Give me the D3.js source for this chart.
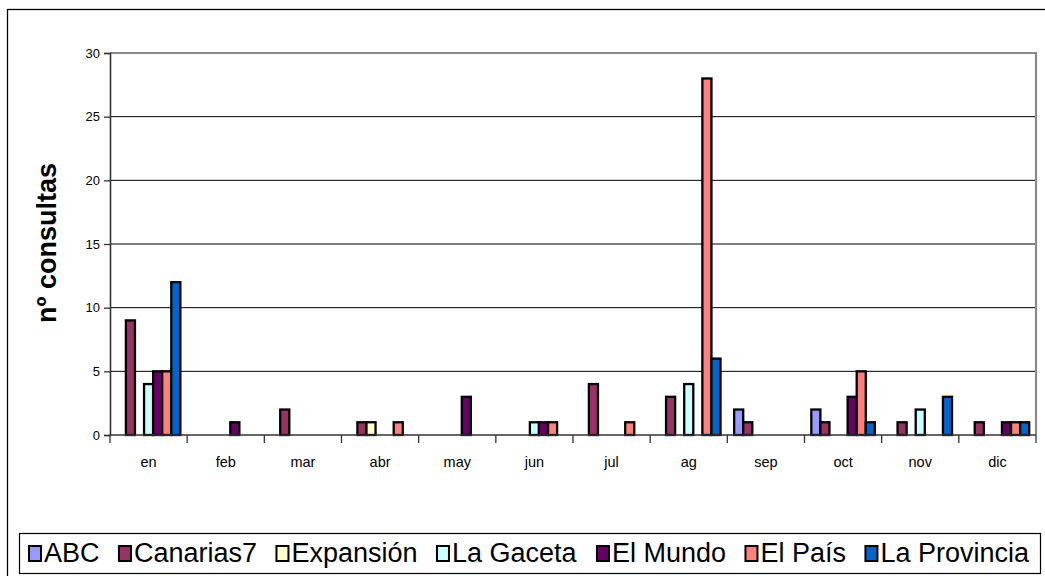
<!DOCTYPE html>
<html>
<head>
<meta charset="utf-8">
<script src="https://cdn.jsdelivr.net/npm/d3@7"></script>
<style>
  html, body { margin: 0; padding: 0; background: #fff; }
  svg { display: block; font-family: "Liberation Sans", Arial, sans-serif; }
</style>
</head>
<body>
<svg id="chart" width="1045" height="576"></svg>
<script>
// ---- data ----
const months = ["en", "feb", "mar", "abr", "may", "jun", "jul", "ag", "sep", "oct", "nov", "dic"];
const seriesNames = ["ABC", "Canarias7", "Expansión", "La Gaceta", "El Mundo", "El País", "La Provincia"];
const seriesColors = ["#9999FF", "#993366", "#FFFFCC", "#CCFFFF", "#660066", "#FF8080", "#0066CC"];
const abc         = [0, 0, 0, 0, 0, 0, 0, 0, 2, 2, 0, 0];
const canarias7   = [9, 0, 2, 1, 0, 0, 4, 3, 1, 1, 1, 1];
const expansion   = [0, 0, 0, 1, 0, 0, 0, 0, 0, 0, 0, 0];
const laGaceta    = [4, 0, 0, 0, 0, 1, 0, 4, 0, 0, 2, 0];
const elMundo     = [5, 1, 0, 0, 3, 1, 0, 0, 0, 3, 0, 1];
const elPais      = [5, 0, 0, 1, 0, 1, 1, 28, 0, 5, 0, 1];
const laProvincia = [12, 0, 0, 0, 0, 0, 0, 6, 0, 1, 3, 1];
const yTicks = [0, 5, 10, 15, 20, 25, 30];
const yTitle = "nº consultas";

const seriesValues = [abc, canarias7, expansion, laGaceta, elMundo, elPais, laProvincia];

// ---- layout ----
const svg = d3.select("#chart");
const plot = { left: 110, right: 1036, top: 53, bottom: 435 };

// outer chart border (extends past the picture on right/bottom)
svg.append("rect")
  .attr("x", 7.5).attr("y", 9.5).attr("width", 1200).attr("height", 800)
  .attr("fill", "none").attr("stroke", "#000").attr("stroke-width", 1.3);

const x0 = d3.scaleBand().domain(months).range([plot.left, plot.right]).paddingInner(0).paddingOuter(0);
const x1 = d3.scaleBand().domain(seriesNames).range([0, x0.bandwidth()]).paddingInner(0).paddingOuter(0.75);
const y = d3.scaleLinear().domain([0, 30]).range([plot.bottom, plot.top]);

// gridlines
svg.append("g").selectAll("line").data(yTicks.filter(t => t > 0 && t < 30)).join("line")
  .attr("x1", plot.left).attr("x2", plot.right)
  .attr("y1", d => y(d)).attr("y2", d => y(d))
  .attr("stroke", "#000").attr("stroke-width", 1);

// plot area border (top, right) in gray
svg.append("path")
  .attr("d", `M${plot.left},${y(30)}H${plot.right}V${plot.bottom}`)
  .attr("fill", "none").attr("stroke", "#8a8a8a").attr("stroke-width", 2.2);

// bars
const flat = [];
months.forEach((m, i) => {
  seriesNames.forEach((s, j) => {
    const v = seriesValues[j][i];
    if (v > 0) flat.push({ m, s, v, c: seriesColors[j] });
  });
});
svg.append("g").selectAll("rect").data(flat).join("rect")
  .attr("x", d => x0(d.m) + x1(d.s))
  .attr("y", d => y(d.v))
  .attr("width", x1.bandwidth())
  .attr("height", d => y(0) - y(d.v))
  .attr("fill", d => d.c)
  .attr("stroke", "#000").attr("stroke-width", 2.3);

// y axis
const yAxis = d3.axisLeft(y).tickValues(yTicks).tickSize(6).tickPadding(4).tickFormat(d3.format("d"));
const gy = svg.append("g").attr("transform", `translate(${plot.left},0)`).call(yAxis);
gy.select(".domain").attr("stroke", "#333").attr("stroke-width", 1.6);
gy.selectAll(".tick line").attr("stroke", "#333").attr("stroke-width", 1.3);
gy.selectAll(".tick text").attr("font-size", 13).attr("fill", "#000")
  .attr("font-family", "Liberation Sans, Arial, sans-serif");

// x axis: ticks at category boundaries, labels centered
const gx = svg.append("g");
gx.append("line").attr("x1", plot.left).attr("x2", plot.right)
  .attr("y1", plot.bottom).attr("y2", plot.bottom)
  .attr("stroke", "#333").attr("stroke-width", 1.6);
const boundaries = months.map(m => x0(m)).concat([x0(months[months.length - 1]) + x0.bandwidth()]);
gx.selectAll("line.tk").data(boundaries).join("line").attr("class", "tk")
  .attr("x1", d => d).attr("x2", d => d)
  .attr("y1", plot.bottom).attr("y2", plot.bottom + 8)
  .attr("stroke", "#333").attr("stroke-width", 1.3);
gx.selectAll("text").data(months).join("text")
  .attr("x", d => x0(d) + x0.bandwidth() / 2)
  .attr("y", 467)
  .attr("text-anchor", "middle")
  .attr("font-size", 14.5)
  .text(d => d);

// y title
svg.append("text")
  .attr("transform", "translate(56,243) rotate(-90)")
  .attr("text-anchor", "middle")
  .attr("font-size", 27).attr("font-weight", "bold")
  .text(yTitle);

// legend
const lg = svg.append("g");
const fs = 27;
lg.append("rect").attr("x", 19.5).attr("y", 533.5).attr("width", 1021).attr("height", 40)
  .attr("fill", "#fff").attr("stroke", "#000").attr("stroke-width", 1.2);
const items = lg.selectAll("g").data(seriesNames).join("g");
items.append("rect").attr("class", "sw")
  .attr("y", 1)
  .attr("width", 12).attr("height", 15)
  .attr("fill", (d, i) => seriesColors[i]).attr("stroke", "#000").attr("stroke-width", 2);
items.append("text").attr("font-size", fs).attr("x", 15).attr("y", 17).text(d => d);
// sequential layout
let widths = [];
items.each(function () { widths.push(this.getBBox().width); });
const totalW = d3.sum(widths);
const gap = (1001 - totalW) / (seriesNames.length - 1);
let cx = 29;
items.attr("transform", (d, i) => { const t = `translate(${cx},545)`; cx += widths[i] + gap; return t; });
</script>
</body>
</html>
